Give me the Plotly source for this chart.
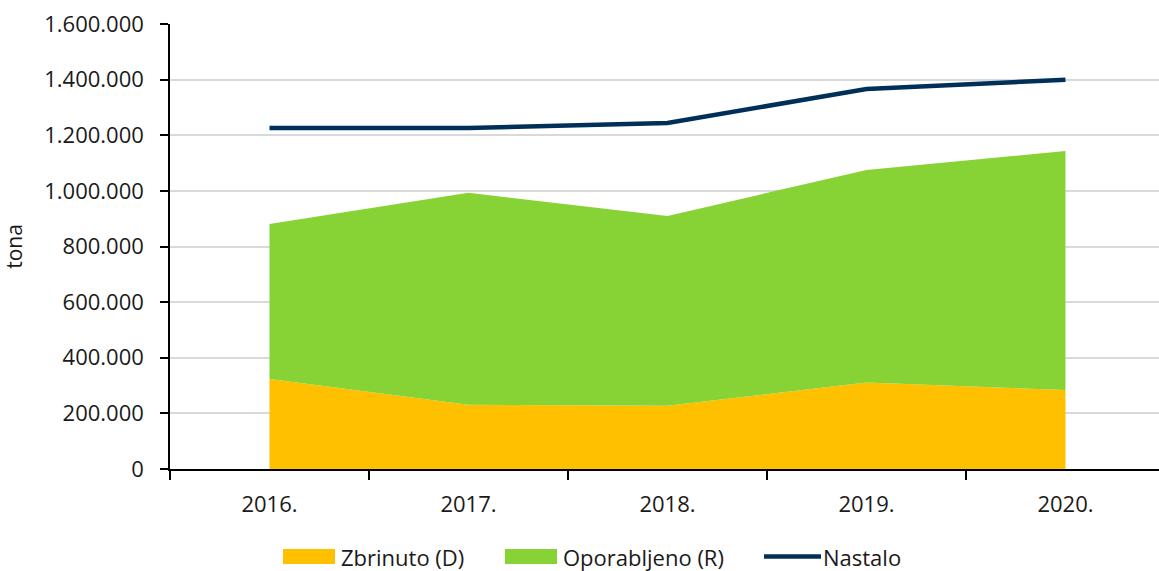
import plotly.graph_objects as go

years = ["2016.", "2017.", "2018.", "2019.", "2020."]
zbrinuto = [324000, 231000, 227000, 311000, 284000]
oporabljeno = [557000, 762000, 683000, 764000, 859000]
nastalo = [1226000, 1226000, 1244000, 1366000, 1400000]
y_ticks = [0, 200000, 400000, 600000, 800000, 1000000, 1200000, 1400000, 1600000]

C_D = "#FFC000"
C_R = "#87D234"
C_N = "#00305A"
FONT = "Open Sans"
TXT = "#1a1a1a"

W, H = 1159, 571
L, R, T, B = 170, 0, 24, 102
PW, PH = W - L - R, H - T - B


def px(x):
    return (x - L) / PW


def py(y):
    return (H - B - y) / PH


fig = go.Figure()
fig.add_trace(go.Scatter(x=years, y=zbrinuto, name="Zbrinuto (D)", stackgroup="one",
                         mode="lines", line=dict(width=0), fillcolor=C_D, showlegend=False))
fig.add_trace(go.Scatter(x=years, y=oporabljeno, name="Oporabljeno (R)", stackgroup="one",
                         mode="lines", line=dict(width=0), fillcolor=C_R, showlegend=False))
fig.add_trace(go.Scatter(x=years, y=nastalo, name="Nastalo", mode="lines",
                         line=dict(color=C_N, width=4.5), showlegend=False))

# manual legend
shapes = []
annotations = []
ly0, ly1, lyc = 549, 564, 556.5
legend_items = [
    ("rect", C_D, 283, 335, 339, "Zbrinuto (D)"),
    ("rect", C_R, 505, 557, 561, "Oporabljeno (R)"),
    ("line", C_N, 764, 821, 821, "Nastalo"),
]
for kind, col, x0, x1, tx, label in legend_items:
    if kind == "rect":
        shapes.append(dict(type="rect", xref="paper", yref="paper", x0=px(x0), x1=px(x1),
                           y0=py(ly1), y1=py(ly0), fillcolor=col, line=dict(width=0)))
    else:
        shapes.append(dict(type="line", xref="paper", yref="paper", x0=px(x0), x1=px(x1),
                           y0=py(lyc), y1=py(lyc), line=dict(color=col, width=4.5)))
    annotations.append(dict(text=label, xref="paper", yref="paper", x=px(tx), y=py(lyc),
                            xanchor="left", yanchor="middle", showarrow=False,
                            font=dict(family=FONT, size=22, color=TXT)))

fig.update_layout(
    width=W, height=H,
    margin=dict(l=L, r=R, t=T, b=B, autoexpand=False),
    paper_bgcolor="white", plot_bgcolor="white",
    separators=",.",
    font=dict(family=FONT, size=22, color=TXT),
    shapes=shapes, annotations=annotations,
    showlegend=False,
    xaxis=dict(type="category", range=[-0.5, 4.47], tickson="boundaries",
               ticks="outside", ticklen=9, tickwidth=1.5, tickcolor="#000",
               showline=True, linecolor="#000", linewidth=1.5, showgrid=False,
               ticklabelstandoff=15, tickfont=dict(size=22)),
    yaxis=dict(range=[0, 1600000], tickvals=y_ticks, tickformat=",d",
               ticks="outside", ticklen=8, tickwidth=1.5, tickcolor="#000",
               showline=True, linecolor="#000", linewidth=1.5,
               showgrid=True, gridcolor="#d9d9d9", gridwidth=1.5, zeroline=False,
               ticklabelstandoff=12, tickfont=dict(size=22),
               title=dict(text="tona", font=dict(size=21), standoff=17)),
)

fig.write_html("out.html", config={"displayModeBar": False},
               post_script="document.body.style.margin='0';document.body.style.padding='0';")
